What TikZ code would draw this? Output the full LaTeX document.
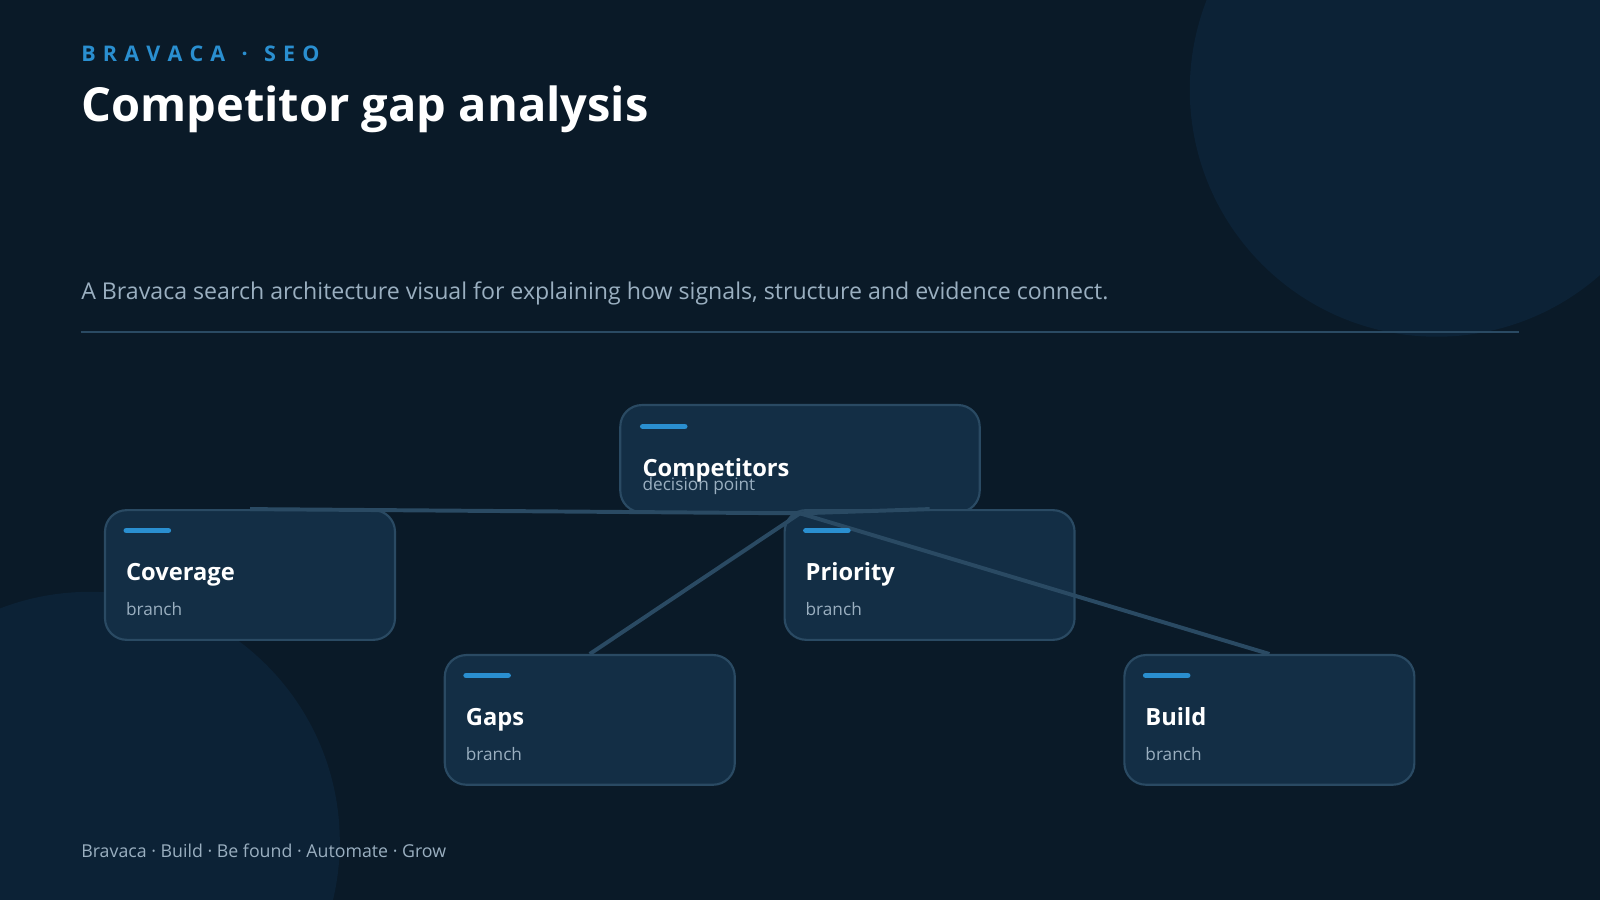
\documentclass[tikz,border=0pt]{standalone}
\usepackage{fontspec}
\setmainfont{Open Sans}
\usetikzlibrary{positioning}

\definecolor{bgnavy}{HTML}{0A1A28}
\definecolor{blob}{HTML}{0C2236}
\definecolor{cardfill}{HTML}{132E45}
\definecolor{cardline}{HTML}{2A4A63}
\definecolor{accent}{HTML}{2A8FD0}
\definecolor{muted}{HTML}{9AAFC0}

\tikzset{
    card/.style={draw=cardline, line width=0.6pt, fill=cardfill, rounded corners=6pt,
        minimum width=2.84cm, minimum height=1.27cm, inner sep=0pt},
    wide card/.style={card, minimum width=3.52cm, minimum height=1.05cm},
    edge/.style={draw=cardline, line width=1.1pt},
    bar/.style={draw=accent, line width=1.6pt, line cap=round},
    head/.style={anchor=base west, inner sep=0pt, text=white, font=\bfseries\fontsize{6.6}{8}\selectfont},
    sub/.style={anchor=base west, inner sep=0pt, text=muted, font=\fontsize{4.8}{6}\selectfont}
}

\begin{document}
\begin{tikzpicture}[x=0.01cm, y=-0.01cm]

    % Background
    \fill[bgnavy] (0, 0) rectangle (1568, 882);
    \useasboundingbox (0, 0) rectangle (1568, 882);
    \begin{scope}
        \clip (0, 0) rectangle (1568, 882);
        \fill[blob] (1408, 88) circle (242);
        \fill[blob] (88, 825) circle (245);
    \end{scope}

    % Header
    \node[anchor=base west, inner sep=0pt, text=accent, font=\bfseries\fontsize{6}{7}\selectfont] (kicker) at (79, 60)
        {B\,\,R\,\,A\,\,V\,\,A\,\,C\,\,A\,\, \,·\,\, \,S\,\,E\,\,O};
    \node[anchor=base west, inner sep=0pt, text=white, font=\bfseries\fontsize{13.1}{15}\selectfont] (title) at (79, 119)
        {Competitor gap analysis};
    \node[anchor=base west, inner sep=0pt, text=muted, font=\fontsize{6.45}{7}\selectfont] (lede) at (79, 294)
        {A Bravaca search architecture visual for explaining how signals, structure and evidence connect.};
    \coordinate (ruleL) at (79, 325);
    \coordinate (ruleR) at (1489, 325);
    \draw[cardline, line width=0.5pt] (ruleL) -- (ruleR);

    % Cards
    \node[wide card] (comp) at (784, 449.5) {};
    \node[card] (cov) at (245, 563.5) {};
    \node[card] (prio) at (911, 563.5) {};
    \node[card] (gaps) at (578, 705.5) {};
    \node[card] (build) at (1244, 705.5) {};

    % Connectors
    \draw[edge] (cov.north) -- (comp.south);
    \draw[edge] (comp.south) -- (prio.north);
    \draw[edge] (comp.south) -- (gaps.north);
    \draw[edge] (comp.south) -- (build.north);

    % Card texts
    \draw[bar] (630, 418) -- (671, 418);
    \node[head] at (629, 467) {Competitors};
    \node[sub] at (629, 481) {decision point};
    \foreach \n/\t in {cov/Coverage, prio/Priority, gaps/Gaps, build/Build} {
        \draw[bar] ([shift={(22, 21)}]\n.north west) -- ([shift={(63, 21)}]\n.north west);
        \node[head] at ([shift={(21, 70)}]\n.north west) {\t};
        \node[sub] at ([shift={(21, 104)}]\n.north west) {branch};
    }

    % Footer
    \node[anchor=base west, inner sep=0pt, text=muted, font=\fontsize{4.95}{6}\selectfont] (foot) at (79, 840)
        {Bravaca · Build · Be found · Automate · Grow};

\end{tikzpicture}
\end{document}
